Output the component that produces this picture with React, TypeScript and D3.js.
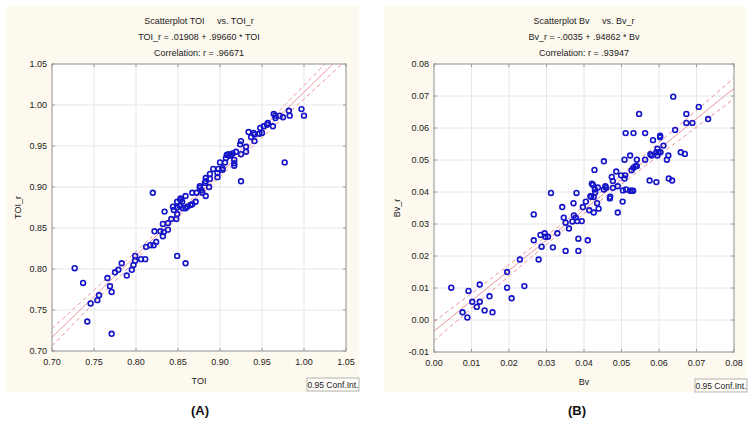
import React from "react";
import * as d3 from "d3";

// ---------- Data: panel A (TOI vs TOI_r) ----------
const toiX = [0.997,1.000,0.982,0.983,0.977,0.975,0.971,0.966,0.964,0.966,0.963,0.957,0.956,0.952,0.948,0.950,0.947,0.941,0.940,0.934,0.937,0.941,0.931,0.931,0.925,0.925,0.924,0.919,0.915,0.913,0.912,0.910,0.908,0.907,0.917,0.917,0.917,0.925,0.906,0.900,0.903,0.903,0.898,0.897,0.897,0.892,0.888,0.888,0.883,0.883,0.882,0.887,0.876,0.876,0.878,0.872,0.867,0.883,0.820,0.859,0.853,0.879,0.871,0.853,0.855,0.849,0.844,0.849,0.852,0.856,0.859,0.861,0.865,0.867,0.845,0.834,0.849,0.842,0.848,0.832,0.838,0.829,0.822,0.833,0.838,0.832,0.824,0.812,0.817,0.821,0.849,0.859,0.806,0.811,0.799,0.799,0.797,0.795,0.789,0.783,0.779,0.775,0.766,0.769,0.771,0.727,0.737,0.756,0.754,0.746,0.742,0.771];
const toiY = [0.995,0.987,0.993,0.987,0.930,0.985,0.987,0.987,0.989,0.984,0.974,0.978,0.976,0.974,0.972,0.966,0.965,0.964,0.966,0.967,0.961,0.956,0.949,0.943,0.940,0.956,0.952,0.943,0.941,0.939,0.938,0.940,0.939,0.935,0.933,0.929,0.926,0.907,0.930,0.930,0.923,0.921,0.922,0.917,0.912,0.922,0.916,0.910,0.911,0.907,0.905,0.900,0.901,0.899,0.896,0.893,0.893,0.889,0.893,0.889,0.886,0.893,0.882,0.884,0.882,0.882,0.876,0.875,0.877,0.874,0.874,0.876,0.878,0.879,0.872,0.870,0.867,0.861,0.861,0.855,0.856,0.846,0.846,0.845,0.848,0.840,0.833,0.827,0.829,0.829,0.816,0.807,0.812,0.812,0.816,0.810,0.805,0.799,0.792,0.807,0.799,0.796,0.789,0.779,0.772,0.801,0.783,0.768,0.762,0.758,0.736,0.721];

// ---------- Data: panel B (Bv vs Bv_r) ----------
const bvX = [0.0638,0.0706,0.0731,0.0673,0.0673,0.0689,0.0643,0.0547,0.0511,0.0532,0.0563,0.0603,0.0603,0.0584,0.0612,0.0596,0.0599,0.0604,0.0593,0.0577,0.0581,0.0596,0.0625,0.0621,0.0658,0.0669,0.0563,0.0541,0.0523,0.0508,0.0453,0.0428,0.0527,0.0532,0.0537,0.0541,0.0486,0.0510,0.0499,0.0474,0.0508,0.0477,0.0575,0.0593,0.0626,0.0635,0.0421,0.0424,0.0437,0.0429,0.0457,0.0459,0.0453,0.0490,0.0477,0.0512,0.0504,0.0523,0.0528,0.0531,0.0312,0.0380,0.0430,0.0417,0.0470,
  0.0046,0.0092,0.0122,0.0102,0.0122,0.0114,0.0076,0.0089,0.0135,0.0148,0.0156,0.0195,0.0195,0.0207,0.0241,0.0229,0.0279,0.0287,0.0266,0.0266,0.0284,0.0295,0.0297,0.0304,0.0317,0.0329,0.0342,0.0346,0.0351,0.0360,0.0351,0.0369,0.0373,0.0378,0.0382,0.0394,0.0372,0.0385,0.0385,0.0397,0.0405,0.0410,0.0414,0.0419,0.0426,0.0426,0.0435,0.0439,0.0469,0.0490,0.0503];
const bvY = [0.0698,0.0666,0.0628,0.0644,0.0616,0.0616,0.0594,0.0644,0.0584,0.0584,0.0584,0.0576,0.0571,0.0562,0.0545,0.0535,0.0524,0.0524,0.0524,0.0518,0.0514,0.0514,0.0514,0.0501,0.0524,0.0519,0.0501,0.0501,0.0514,0.0501,0.0496,0.0469,0.0468,0.0476,0.0481,0.0481,0.0464,0.0452,0.0452,0.0447,0.0442,0.0434,0.0436,0.0431,0.0442,0.0436,0.0426,0.0422,0.0414,0.0408,0.0418,0.0413,0.0408,0.0418,0.0413,0.0408,0.0405,0.0404,0.0404,0.0404,0.0397,0.0397,0.0399,0.0387,0.0385,
  0.0101,0.0091,0.0111,0.0057,0.0057,0.0041,0.0024,0.0008,0.0030,0.0074,0.0024,0.0150,0.0101,0.0068,0.0106,0.0189,0.0189,0.0229,0.0249,0.0330,0.0266,0.0271,0.0260,0.0260,0.0227,0.0271,0.0353,0.0320,0.0304,0.0286,0.0216,0.0308,0.0327,0.0320,0.0309,0.0309,0.0365,0.0254,0.0216,0.0353,0.0370,0.0249,0.0343,0.0385,0.0384,0.0336,0.0365,0.0348,0.0380,0.0336,0.0370];

const toiTicks = [0.70,0.75,0.80,0.85,0.90,0.95,1.00,1.05];
const bvXTicks = [0.00,0.01,0.02,0.03,0.04,0.05,0.06,0.07,0.08];
const bvYTicks = [-0.01,0.00,0.01,0.02,0.03,0.04,0.05,0.06,0.07,0.08];

const titlesA = ["Scatterplot TOI     vs. TOI_r", "TOI_r = .01908 + .99660 * TOI", "Correlation: r = .96671"];
const titlesB = ["Scatterplot Bv     vs. Bv_r", "Bv_r = -.0035 + .94862 * Bv", "Correlation: r = .93947"];

// regression: [intercept, slope, meanX, halfWidthAtMean, curvature]
const regA = [0.01908, 0.9966, 0.87, 0.003, 0.0035];
const regB = [-0.0035, 0.94862, 0.038, 0.0012, 0.00524];

const FONT = "'Liberation Sans', Arial, sans-serif";
const BG = "#fdf9ee";
const PT = "#1414c8";
const RED = "#e8808a";

type PanelProps = {
  id: string;
  bg: [number, number, number, number];
  plot: [number, number, number, number];
  xDomain: [number, number];
  yDomain: [number, number];
  xTicks: number[];
  yTicks: number[];
  xs: number[];
  ys: number[];
  titles: string[];
  xLabel: string;
  yLabel: string;
  reg: number[];
  legend: [number, number, number, number];
  letter: string;
  letterX: number;
  yLabelX: number;
};

function Panel(p: PanelProps) {
  const [l, t, r, b] = p.plot;
  const x = d3.scaleLinear().domain(p.xDomain).range([l, r]);
  const y = d3.scaleLinear().domain(p.yDomain).range([b, t]);
  const cx = (l + r) / 2;
  const [a0, a1, m, h0, k] = p.reg;
  const samples = d3.range(0, 201).map((i) => p.xDomain[0] + (i / 200) * (p.xDomain[1] - p.xDomain[0]));
  const hw = (v: number) => Math.sqrt(h0 * h0 + k * (v - m) * (v - m));
  const line = d3.line<number[]>().x((d) => x(d[0])).y((d) => y(d[1]));
  const mid = line(samples.map((v) => [v, a0 + a1 * v]));
  const up = line(samples.map((v) => [v, a0 + a1 * v + hw(v)]));
  const lo = line(samples.map((v) => [v, a0 + a1 * v - hw(v)]));
  const fmt = (v: number) => (Math.abs(v) < 1e-9 ? 0 : v).toFixed(2);
  const [bx0, by0, bx1, by1] = p.bg;
  const [lx0, ly0, lx1, ly1] = p.legend;
  return (
    <g fontFamily={FONT}>
      <rect x={bx0} y={by0} width={bx1 - bx0} height={by1 - by0} fill={BG} />
      <defs>
        <clipPath id={"clip" + p.id}>
          <rect x={l} y={t} width={r - l} height={b - t} />
        </clipPath>
      </defs>
      <rect x={l} y={t} width={r - l} height={b - t} fill="#fff" />
      {p.xTicks.map((v) => (
        <line key={"gx" + v} x1={x(v)} x2={x(v)} y1={t} y2={b} stroke="#e6e6ea" strokeWidth={1} />
      ))}
      {p.yTicks.map((v) => (
        <line key={"gy" + v} x1={l} x2={r} y1={y(v)} y2={y(v)} stroke="#e6e6ea" strokeWidth={1} />
      ))}
      <g clipPath={`url(#clip${p.id})`}>
        <path d={mid || ""} fill="none" stroke={RED} strokeWidth={0.9} />
        <path d={up || ""} fill="none" stroke={RED} strokeWidth={0.9} strokeDasharray="4,3" />
        <path d={lo || ""} fill="none" stroke={RED} strokeWidth={0.9} strokeDasharray="4,3" />
      </g>
      <rect x={l} y={t} width={r - l} height={b - t} fill="none" stroke="#9a9a9a" strokeWidth={1} />
      {p.yTicks.map((v) => (
        <g key={"ty" + v}>
          <line x1={r - 3} x2={r} y1={y(v)} y2={y(v)} stroke="#9a9a9a" />
          <line x1={l} x2={l + 3} y1={y(v)} y2={y(v)} stroke="#9a9a9a" />
          <text x={l - 5} y={y(v) + 3} textAnchor="end" fontSize={9} fill="#222">{fmt(v)}</text>
        </g>
      ))}
      {p.xTicks.map((v) => (
        <g key={"tx" + v}>
          <line x1={x(v)} x2={x(v)} y1={b - 3} y2={b} stroke="#9a9a9a" />
          <line x1={x(v)} x2={x(v)} y1={t} y2={t + 3} stroke="#9a9a9a" />
          <text x={x(v)} y={b + 14} textAnchor="middle" fontSize={9} fill="#222">{fmt(v)}</text>
        </g>
      ))}
      {p.xs.map((v, i) => (
        <circle key={"p" + i} cx={x(v)} cy={y(p.ys[i])} r={2.4} fill="none" stroke={PT} strokeWidth={1.6} />
      ))}
      {p.titles.map((s, i) => (
        <text key={"t" + i} x={cx} y={24 + i * 16} textAnchor="middle" fontSize={9} fill="#222" style={{ whiteSpace: "pre" }}>{s}</text>
      ))}
      <text x={cx} y={b + 33} textAnchor="middle" fontSize={9} fill="#222">{p.xLabel}</text>
      <text transform={`translate(${p.yLabelX},${(t + b) / 2}) rotate(-90)`} textAnchor="middle" fontSize={9} fill="#222">{p.yLabel}</text>
      <rect x={lx0} y={ly0} width={lx1 - lx0} height={ly1 - ly0} fill="#fffdf8" stroke="#a0a0a0" strokeWidth={0.8} />
      <text x={(lx0 + lx1) / 2} y={ly1 - 3.5} textAnchor="middle" fontSize={8.5} fill="#222">0.95 Conf.Int.</text>
      <text x={p.letterX} y={415} textAnchor="middle" fontSize={13} fontWeight="bold" fill="#111">{p.letter}</text>
    </g>
  );
}

export default function App() {
  return (
    <svg width={754} height={423} style={{ position: "absolute", left: 0, top: 0, background: "#fff" }}>
      <Panel
        id="A"
        bg={[6, 6, 359, 392]}
        plot={[52, 64, 346, 351]}
        xDomain={[0.7, 1.05]}
        yDomain={[0.7, 1.05]}
        xTicks={toiTicks}
        yTicks={toiTicks}
        xs={toiX}
        ys={toiY}
        titles={titlesA}
        xLabel="TOI"
        yLabel="TOI_r"
        reg={regA}
        legend={[307, 378, 359, 391]}
        letter="(A)"
        letterX={200}
        yLabelX={21}
      />
      <Panel
        id="B"
        bg={[384, 6, 746, 392]}
        plot={[434, 64, 734, 352]}
        xDomain={[0, 0.08]}
        yDomain={[-0.01, 0.08]}
        xTicks={bvXTicks}
        yTicks={bvYTicks}
        xs={bvX}
        ys={bvY}
        titles={titlesB}
        xLabel="Bv"
        yLabel="Bv_r"
        reg={regB}
        legend={[695, 379, 747, 392]}
        letter="(B)"
        letterX={577}
        yLabelX={400}
      />
    </svg>
  );
}
